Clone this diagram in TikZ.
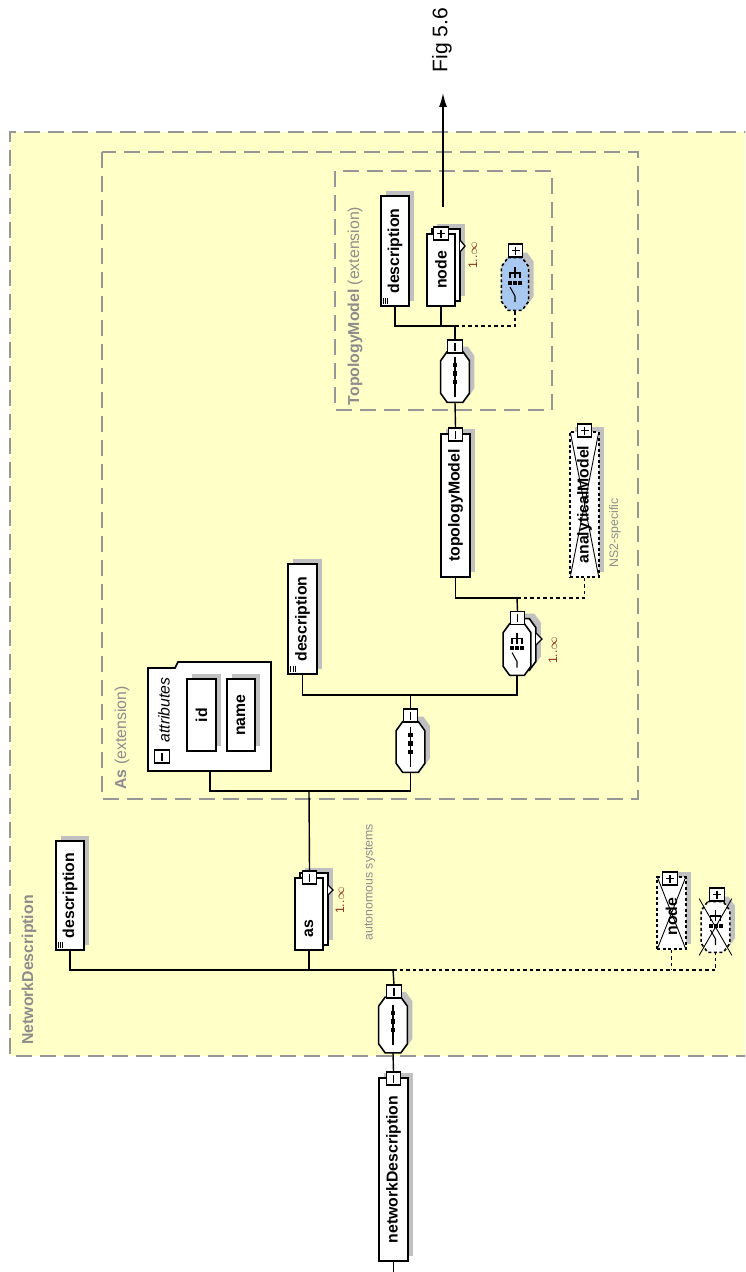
\documentclass[tikz,border=0pt]{standalone}
\usepackage{fontspec}
\setmainfont{Liberation Sans}
\usepackage{graphicx}
\usetikzlibrary{positioning,shadows,arrows.meta}
\definecolor{typeyellow}{RGB}{255,255,200}
\definecolor{framegray}{RGB}{150,150,150}
\definecolor{labelgray}{RGB}{140,140,140}
\definecolor{shadegray}{RGB}{192,192,192}
\definecolor{choiceblue}{RGB}{168,200,240}
\definecolor{occurs}{RGB}{140,50,20}
\newcommand{\minusmark}{\draw[solid, line width=0.6pt] ([yshift=-0.8mm]path picture bounding box.center) -- ([yshift=0.8mm]path picture bounding box.center);}
\newcommand{\plusmark}{\minusmark\draw[solid, line width=0.6pt] ([xshift=-0.8mm]path picture bounding box.center) -- ([xshift=0.8mm]path picture bounding box.center);}
\newcommand{\xoutmark}{\draw[solid, line width=0.5pt] (path picture bounding box.north west) -- (path picture bounding box.south east) (path picture bounding box.north east) -- (path picture bounding box.south west);}
\newcommand{\docmark}{\foreach \d in {0.5,0.95,1.4} {\draw[solid, line width=0.4pt] ([shift={(\d mm,0.4mm)}]path picture bounding box.south west) -- ++(0,1.3mm);}}
% compositor outline (octagon) round a named node
\newcommand{\compopath}[1]{([xshift=1.3mm]#1.north west) -- ([xshift=-1.3mm]#1.north east) -- ([yshift=-1.8mm]#1.north east) -- ([yshift=1.8mm]#1.south east) -- ([xshift=-1.3mm]#1.south east) -- ([xshift=1.3mm]#1.south west) -- ([yshift=1.8mm]#1.south west) -- ([yshift=-1.8mm]#1.north west) -- cycle}
\newcommand{\compobody}[2][]{%
  \fill[shadegray, transform canvas={shift={(1mm,1mm)}}] \compopath{#2};
  \filldraw[fill=white, line width=0.9pt, #1] \compopath{#2};}
\newcommand{\seqsym}[1]{%
  \draw[line width=0.6pt] ([yshift=4mm]#1.center) -- ([yshift=-4mm]#1.center);
  \foreach \d in {2.4,0.7,-1} {\fill ([yshift=\d mm]#1.center) +(-0.45mm,-0.45mm) rectangle +(0.45mm,0.45mm);}}
\newcommand{\choicesym}[1]{%
  \draw[line width=0.6pt] ([yshift=3.4mm]#1.center) -- ([yshift=1.2mm]#1.center);
  \draw[line width=0.6pt] ([shift={(-1mm,1.2mm)}]#1.center) |- ([yshift=2.2mm]#1.center) -| ([shift={(1mm,1.2mm)}]#1.center);
  \foreach \d in {-1,0,1} {\fill ([shift={(\d mm,0.3mm)}]#1.center) +(-0.4mm,-0.4mm) rectangle +(0.4mm,0.4mm);}
  \draw[line width=0.6pt] ([shift={(-1mm,-0.6mm)}]#1.center) -- ([yshift=-2.4mm]#1.center) -- ([yshift=-3.6mm]#1.center);}

\begin{document}
\begin{tikzpicture}[x=0.2mm,y=-0.2mm,
  conn/.style={line width=0.8pt},
  optconn/.style={line width=0.8pt, dash pattern=on 0.7mm off 0.6mm},
  frame/.style={framegray, line width=0.9pt, dash pattern=on 3.2mm off 1.6mm},
  typelabel/.style={labelgray, font=\fontsize{9}{10}\selectfont},
  note/.style={labelgray, font=\fontsize{7}{8}\selectfont},
  occ/.style={occurs, font=\fontsize{7}{8}\selectfont},
  elem/.style={draw, fill=white, line width=0.9pt, inner sep=0pt, minimum width=5.7mm,
    font=\fontsize{9}{10}\selectfont\bfseries,
    drop shadow={shadow xshift=1mm, shadow yshift=1mm, fill=shadegray, opacity=1}},
  elemmany/.style={draw, fill=white, line width=0.9pt, inner sep=0pt, minimum width=5.7mm,
    font=\fontsize{9}{10}\selectfont\bfseries,
    drop shadow={shadow xshift=2mm, shadow yshift=2mm, fill=shadegray, opacity=1},
    copy shadow={shadow xshift=1mm, shadow yshift=1mm, draw=black, fill=white, line width=0.9pt}},
  compo/.style={inner sep=0pt, minimum width=5.6mm, minimum height=10mm},
  crossed/.style={dash pattern=on 0.6mm off 0.5mm},
  minusbox/.style={draw, fill=white, line width=0.7pt, inner sep=0pt, minimum width=2.9mm,
    minimum height=2.6mm, path picture={\minusmark}},
  plusbox/.style={minusbox, path picture={\plusmark}},
  docel/.style={path picture={\docmark}}]

\useasboundingbox (0,0) rectangle (745,1272);
\clip (0,0) rectangle (745,1272);

% complex types
\fill[typeyellow] (10,132) rectangle (760,1056);
\draw[frame] (760,132) -- (10,132) -- (10,1056) -- (760,1056);
\draw[frame] (102,152) rectangle (638,799);
\draw[frame] (335,171) rectangle (552,410);
\node[typelabel] (ndtype) at (29,970) {\rotatebox{90}{\textbf{NetworkDescription}}};
\node[typelabel] (astype) at (122,738) {\rotatebox{90}{\textbf{As} (extension)}};
\node[typelabel] (tmtype) at (355,306) {\rotatebox{90}{\textbf{TopologyModel} (extension)}};

% root element and its sequence
\node[elem, minimum height=36.6mm] (netdesc) at (393.5,1169.5) {\rotatebox{90}{networkDescription}};
\node[minusbox] (ndm) at (393.5,1078.5) {};
\node[compo, minimum height=11mm] (ndseq) at (393,1025) {};
\compobody{ndseq}
\seqsym{ndseq}
\node[minusbox] (ndseqm) at (394,991.5) {};
\coordinate (ndbus) at (393,970);
\coordinate (rootend) at (393.5,1272);

\node[elem, docel, minimum height=21.8mm] (nddesc) at (70,895.5) {\rotatebox{90}{description}};
\node[elemmany, minimum height=14.4mm] (as) at (309,914) {\rotatebox{90}{as\hspace{5.8mm}}};
\draw[fill=white, line width=0.7pt] (328,885) -- (333,890) -- (328,895);
\node[minusbox] (asm) at (309.5,877.5) {};
\node[occ] (asocc) at (340,900) {\rotatebox{90}{1..$\infty$}};
\node[note] (asnote) at (370,882) {\rotatebox{90}{autonomous systems}};

\node[elem, crossed, path picture={\xoutmark}, minimum height=14.4mm] (ndnode) at (671.5,913) {\rotatebox{90}{node\hspace{1.5mm}}};
\node[plusbox] (ndnodep) at (670,878.5) {};
\node[compo] (ndch) at (715.5,927) {};
\compobody[crossed]{ndch}
\choicesym{ndch}
\draw[line width=0.5pt] ([shift={(-0.4mm,0.6mm)}]ndch.north west) -- ([shift={(0.4mm,-0.6mm)}]ndch.south east)
  ([shift={(0.4mm,0.6mm)}]ndch.north east) -- ([shift={(-0.4mm,-0.6mm)}]ndch.south west);
\node[plusbox] (ndchp) at (717,894.5) {};

% As content
\draw[line width=0.9pt, fill=white] (148,771) -- (148,668) -- (175,668) -- (178,662) -- (271,662) -- (271,771) -- cycle;
\coordinate (attr) at (210,771);
\node[minusbox] (attrm) at (162,756.5) {};
\node[font=\fontsize{9}{10}\selectfont\itshape] (attrlabel) at (164,710) {\rotatebox{90}{attributes}};
\node[elem, minimum height=14.4mm] (id) at (201.5,715) {\rotatebox{90}{id}};
\node[elem, minimum height=14.4mm] (name) at (241,715) {\rotatebox{90}{name}};
\coordinate (asbus) at (309,791);

\node[compo] (asseq) at (410.5,747) {};
\compobody{asseq}
\seqsym{asseq}
\node[minusbox] (asseqm) at (410.5,715.5) {};
\coordinate (asseqbus) at (410.5,695);
\node[elem, docel, minimum height=22mm] (asdesc) at (302.5,619) {\rotatebox{90}{description}};

\node[compo, minimum width=5.4mm, minimum height=10.2mm] (asch) at (517,649.5) {};
\fill[shadegray, transform canvas={shift={(2mm,2mm)}}] \compopath{asch};
\filldraw[fill=white, line width=0.9pt, transform canvas={shift={(1mm,1mm)}}] \compopath{asch};
\filldraw[fill=white, line width=0.9pt] \compopath{asch};
\choicesym{asch}
\draw[fill=white, line width=0.7pt] (536,633) -- (542,639) -- (536,645);
\node[minusbox] (aschm) at (517.5,618) {};
\node[occ] (aschocc) at (553,650) {\rotatebox{90}{1..$\infty$}};
\coordinate (chbus) at (517,598);

\node[elem, minimum height=28.6mm] (topo) at (455.5,505.5) {\rotatebox{90}{topologyModel}};
\node[minusbox] (topom) at (455.5,434.5) {};
\node[elem, crossed, path picture={\xoutmark}, minimum height=29mm] (ana) at (584.5,504.5) {\rotatebox{90}{analyticalModel}};
\node[plusbox] (anap) at (584.5,430.5) {};
\node[note] (ananote) at (615,533) {\rotatebox{90}{NS2-specific}};

% TopologyModel content
\node[compo] (tmseq) at (455,377) {};
\compobody{tmseq}
\seqsym{tmseq}
\node[minusbox] (tmseqm) at (455,346.5) {};
\coordinate (tmbus) at (455,326);
\node[elem, docel, minimum height=22mm] (tmdesc) at (395,251) {\rotatebox{90}{description}};
\node[elemmany, minimum height=14.4mm] (tmnode) at (441,270) {\rotatebox{90}{node}};
\draw[fill=white, line width=0.7pt] (460,240) -- (465,246) -- (460,252);
\node[plusbox] (tmnodep) at (441,233.5) {};
\node[occ] (tmnodeocc) at (473,255) {\rotatebox{90}{1..$\infty$}};
\node[compo, minimum width=5.3mm, minimum height=10.4mm] (tmch) at (515,284) {};
\compobody[crossed, fill=choiceblue]{tmch}
\choicesym{tmch}
\node[plusbox] (tmchp) at (515.5,250.5) {};

% link to the next figure
\coordinate (figtail) at (443,207);
\coordinate (figtip) at (443,93);
\node[font=\fontsize{12}{14}\selectfont] (figref) at (442,40) {\rotatebox{90}{Fig 5.6}};

% connectors
\draw[conn] (netdesc.south) -- (rootend);
\draw[conn] (ndm.north) -- (ndseq.south);
\draw[conn] (ndseqm.north) -- (ndbus);
\draw[conn] (nddesc.south) |- (ndbus);
\draw[conn] (as.south) -- (as.south |- ndbus);
\draw[optconn] (ndbus) -| (ndch.south);
\draw[optconn] (ndnode.south) -- (ndnode.south |- ndbus);
\draw[conn] (asm.north) -- (asbus);
\draw[conn] (attr) |- (asbus) -| (asseq.south);
\draw[conn] (asseqm.north) -- (asseqbus);
\draw[conn] (asdesc.south) |- (asseqbus) -| (asch.south);
\draw[conn] (aschm.north) -- (chbus);
\draw[conn] (topo.south) |- (chbus);
\draw[optconn] (chbus) -| (ana.south);
\draw[conn] (topom.north) -- (tmseq.south);
\draw[conn] (tmseqm.north) -- (tmbus);
\draw[conn] (tmdesc.south) |- (tmbus);
\draw[conn] (tmnode.south) -- (tmnode.south |- tmbus);
\draw[optconn] (tmbus) -| (tmch.south);
\draw[conn, -{Latex[length=2.8mm, width=1.6mm]}] (figtail) -- (figtip);
\end{tikzpicture}
\end{document}
